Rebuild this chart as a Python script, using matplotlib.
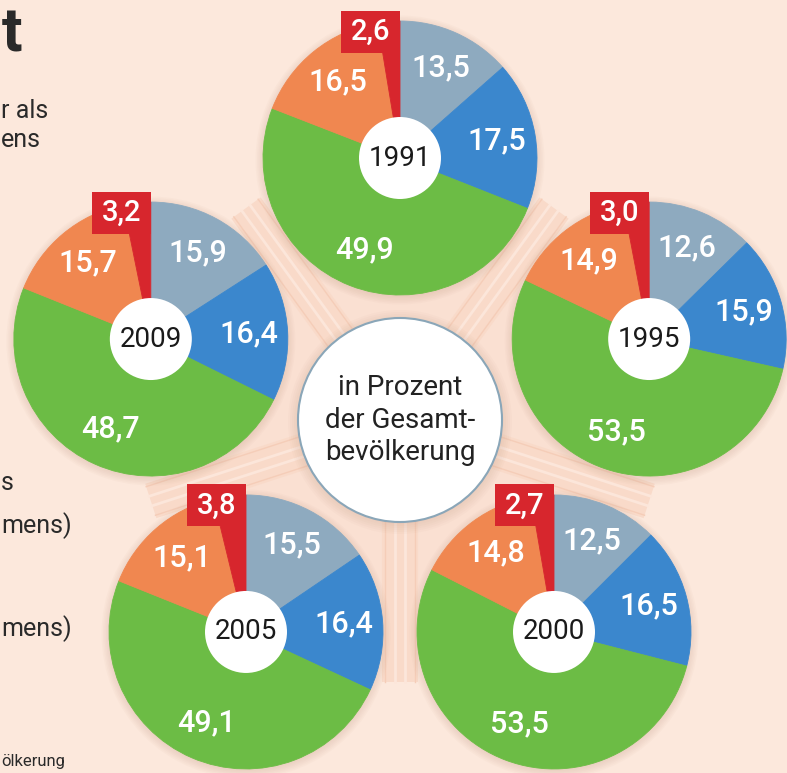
import numpy as np
import matplotlib
matplotlib.use("Agg")
from matplotlib import pyplot as plt
from matplotlib.patches import Circle, Rectangle, Polygon

plt.rcParams['font.family'] = ['Roboto', 'DejaVu Sans']

# ---------------------------------------------------------------------------
# data (percent of total population), clockwise from 12 o'clock
# ---------------------------------------------------------------------------
years  = ['1991', '1995', '2000', '2005', '2009']
grey   = [13.5, 12.6, 12.5, 15.5, 15.9]
blue   = [17.5, 15.9, 16.5, 16.4, 16.4]
green  = [49.9, 53.5, 53.5, 49.1, 48.7]
orange = [16.5, 14.9, 14.8, 15.1, 15.7]
red    = [2.6, 3.0, 2.7, 3.8, 3.2]

center_text = "in Prozent\nder Gesamt-\nbevölkerung"

BG      = '#fce8dc'
COLORS  = ['#8eaabf', '#3b87cd', '#6cbc45', '#f08750', '#d7262d']
W, H    = 787, 773

# layout: pies sit on the corners of a pentagon
CX, CY  = 400, 353
PENT_R  = 262
PIE_R   = 137
angles  = [90, 18, -54, -126, 162]


def fmt(v):
    return f"{v:.1f}".replace('.', ',')


fig = plt.figure(figsize=(W / 100, H / 100), dpi=100)
fig.patch.set_facecolor(BG)
ax = fig.add_axes([0, 0, 1, 1])
ax.set_facecolor(BG)

# background pentagon + rays
centers = [(CX + PENT_R * np.cos(np.radians(a)), CY + PENT_R * np.sin(np.radians(a)))
           for a in angles]
ax.add_patch(Polygon(centers, closed=True, fc='#fae0d2', ec='none', zorder=0))
for a in [54, 126, 198, 270, 342]:
    ux, uy = np.cos(np.radians(a)), np.sin(np.radians(a))
    px, py = -uy, ux
    x1, y1 = CX + PENT_R * ux, CY + PENT_R * uy
    ax.plot([CX, x1], [CY, y1], color='#f9dac9', lw=26, solid_capstyle='butt', zorder=1)
    for off, col, lw in [(-15, '#f5cdb8', 1.0), (15, '#f5cdb8', 1.0),
                         (-5, '#fce6da', 2.0), (5, '#fce6da', 2.0)]:
        ax.plot([CX + off * px, x1 + off * px], [CY + off * py, y1 + off * py],
                color=col, lw=lw, zorder=1)

# central circle
for k in range(6):
    ax.add_patch(Circle((CX, CY - 2), 102 + 2 * k, fc='#c9a08a', ec='none',
                        alpha=0.05, zorder=2))
ax.add_patch(Circle((CX, CY), 102, fc='white', ec='#8aa6b8', lw=1.5, zorder=3))
ax.text(CX, CY, center_text, ha='center', va='center', fontsize=20,
        color='#222222', linespacing=1.25, zorder=4)

# pies
for i, (x0, y0) in enumerate(centers):
    vals = [grey[i], blue[i], green[i], orange[i], red[i]]
    for k in range(6):
        ax.add_patch(Circle((x0, y0 - 2), PIE_R + 1.5 * k, fc='#c9a08a', ec='none',
                            alpha=0.05, zorder=4))
    wedges, _ = ax.pie(vals, colors=COLORS, startangle=90, counterclock=False,
                       center=(x0, y0), radius=PIE_R, frame=True,
                       wedgeprops=dict(linewidth=0.6, zorder=5))
    for w in wedges:
        w.set_edgecolor(w.get_facecolor())
        w.set_zorder(5)
    for w, v in zip(wedges[:4], vals[:4]):
        mid = np.radians((w.theta1 + w.theta2) / 2)
        ax.text(x0 + 0.72 * PIE_R * np.cos(mid), y0 + 0.72 * PIE_R * np.sin(mid),
                fmt(v), ha='center', va='center', fontsize=22, color='white',
                fontweight='medium', zorder=7)
    # red label box above the pie
    bw, bh = 59, 42
    ax.add_patch(Rectangle((x0 - bw, y0 + 0.77 * PIE_R), bw, bh, fc=COLORS[4],
                           ec='none', zorder=6))
    ax.text(x0 - bw / 2, y0 + 0.77 * PIE_R + bh / 2, fmt(red[i]), ha='center',
            va='center', fontsize=21, color='white', fontweight='medium', zorder=7)
    # year in the hole
    ax.add_patch(Circle((x0, y0), 41, fc='white', ec='none', zorder=6))
    ax.text(x0, y0, years[i], ha='center', va='center', fontsize=20,
            color='#1a1a1a', zorder=7)

# legend fragments visible at the left edge
left_txt = [("t", 2, 52, 44, 'bold'), ("r als", 1, 118, 18, 'normal'),
            ("ens", 1, 147, 18, 'normal'), ("s", 1, 490, 18, 'normal'),
            ("mens)", 1, 533, 18, 'normal'), ("mens)", 1, 636, 18, 'normal'),
            ("ölkerung", 1, 766, 12, 'normal')]
for t, x, y, fs, fw in left_txt:
    ax.text(x, H - y, t, ha='left', va='baseline', fontsize=fs, fontweight=fw,
            color='#2a2a2a', zorder=8)

ax.set_xlim(0, W)
ax.set_ylim(0, H)
ax.set_aspect('equal')
ax.axis('off')

fig.savefig('out.png', dpi=100, facecolor=BG)
